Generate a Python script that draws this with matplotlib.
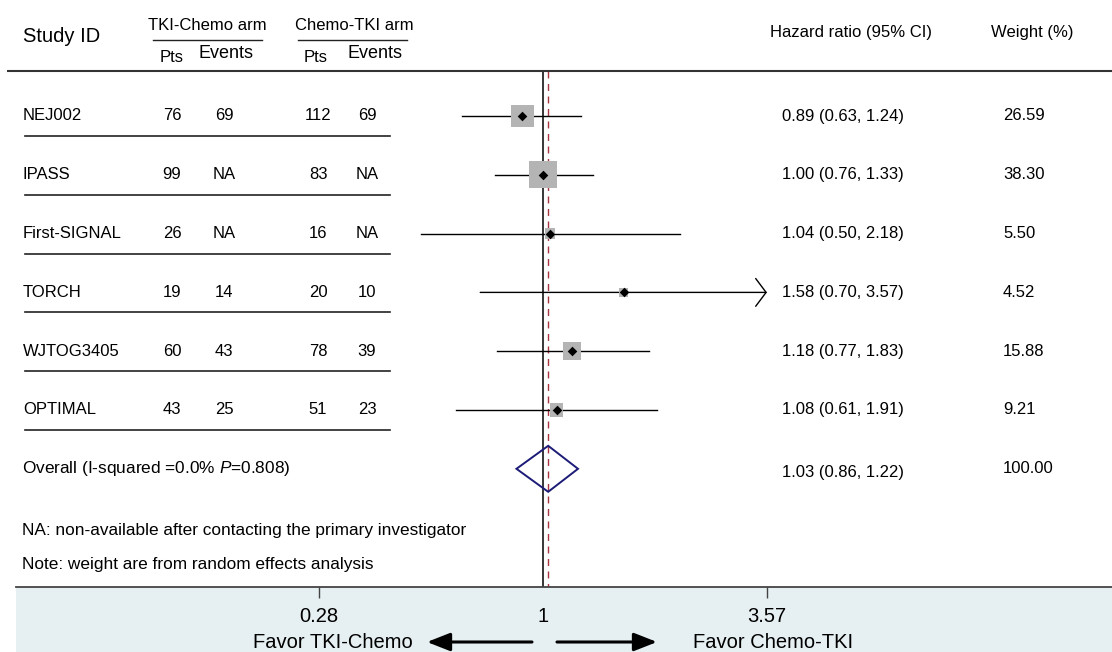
import numpy as np
import matplotlib
matplotlib.use("Agg")
import matplotlib.pyplot as plt
from matplotlib.transforms import blended_transform_factory
from matplotlib.patches import Polygon
from matplotlib.ticker import NullLocator

plt.rcParams['font.family'] = ['Liberation Sans', 'DejaVu Sans']
plt.rcParams['mathtext.fontset'] = 'custom'
plt.rcParams['mathtext.rm'] = 'Liberation Sans'
plt.rcParams['mathtext.it'] = 'Liberation Sans:italic'

# ---------------- data ----------------
studies = ["NEJ002", "IPASS", "First-SIGNAL", "TORCH", "WJTOG3405", "OPTIMAL"]
tki_pts = ["76", "99", "26", "19", "60", "43"]
tki_events = ["69", "NA", "NA", "14", "43", "25"]
chemo_pts = ["112", "83", "16", "20", "78", "51"]
chemo_events = ["69", "NA", "NA", "10", "39", "23"]
hr = [0.89, 1.00, 1.04, 1.58, 1.18, 1.08]
ci_low = [0.63, 0.76, 0.50, 0.70, 0.77, 0.61]
ci_high = [1.24, 1.33, 2.18, 3.57, 1.83, 1.91]
weights = [26.59, 38.30, 5.50, 4.52, 15.88, 9.21]
overall_hr, overall_low, overall_high = 1.03, 0.86, 1.22
overall_weight = 100.00
overall_label = "Overall (I-squared =0.0% $P$=0.808)"
axis_ticks = [0.28, 1, 3.57]
tick_labels = ["0.28", "1", "3.57"]
tick_marks = [0.28, 3.57]
notes = ["NA: non-available after contacting the primary investigator",
         "Note: weight are from random effects analysis"]

# ---------------- layout helpers ----------------
W, H = 1112, 652
X1, PXLN = 543, 176.0       # pixel of HR=1, pixels per ln unit
ROW0, ROWH = 116, 58.8      # first row centre, row spacing (pixels)
BAND = 587                  # top of the bottom band (pixels)


def hr_at(p):
    return np.exp((p - X1) / PXLN)


def r_at(p):
    return (p - ROW0) / ROWH


def fx(p):
    return p / W


fig = plt.figure(figsize=(W / 100, H / 100), dpi=100)
ax = fig.add_axes([0, (H - BAND) / H, 1, BAND / H])
ax.set_xscale('log')
ax.set_xlim(hr_at(0), hr_at(W))
ax.set_ylim(r_at(BAND), r_at(0))
ax.axis('off')
tx = blended_transform_factory(fig.transFigure, ax.transData)

FS = 12
# headers
ax.text(fx(23), r_at(36), "Study ID", fontsize=14.5, ha='left', va='center', transform=tx)
for title, cx, x0, x1, cp, ce in [("TKI-Chemo arm", 207, 153, 262, 172, 226),
                                   ("Chemo-TKI arm", 354, 298, 407, 316, 375)]:
    ax.text(fx(cx), r_at(25), title, fontsize=FS, ha='center', va='center', transform=tx)
    ax.plot([fx(x0), fx(x1)], [r_at(40)] * 2, color='#222222', lw=1.0, transform=tx)
    ax.text(fx(cp), r_at(57.5), "Pts", fontsize=FS, ha='center', va='center', transform=tx)
    ax.text(fx(ce), r_at(54), "Events", fontsize=13, ha='center', va='center', transform=tx)
ax.text(fx(770), r_at(33), "Hazard ratio (95% CI)", fontsize=FS, ha='left', va='center', transform=tx)
ax.text(fx(991), r_at(33), "Weight (%)", fontsize=FS, ha='left', va='center', transform=tx)
ax.plot([fx(7), fx(W)], [r_at(71)] * 2, color='#333333', lw=1.5, transform=tx, solid_capstyle='butt')

# reference lines
ax.plot([1, 1], [r_at(71), r_at(BAND)], color='black', lw=1.1, zorder=1)
ax.plot([overall_hr, overall_hr], [r_at(71), r_at(BAND)], color='#a8343f', lw=1.0,
        dashes=(5, 4), zorder=1)

xmax_ci = axis_ticks[-1]
ys = np.arange(len(studies))
for i in ys:
    ax.text(fx(23), i, studies[i], fontsize=FS, ha='left', va='center', transform=tx)
    for col, cx in zip([tki_pts, tki_events, chemo_pts, chemo_events], [172, 224, 318, 367]):
        ax.text(fx(cx), i, col[i], fontsize=FS, ha='center', va='center', transform=tx)
    ax.plot([fx(25), fx(390)], [i + 20 / ROWH] * 2, color='#222222', lw=1.2, transform=tx)
    ax.text(fx(782), i, f"{hr[i]:.2f} ({ci_low[i]:.2f}, {ci_high[i]:.2f})", fontsize=FS,
            ha='left', va='center', transform=tx)
    ax.text(fx(1003), i, f"{weights[i]:.2f}", fontsize=FS, ha='left', va='center', transform=tx)
    if ci_high[i] >= xmax_ci:
        ax.annotate("", xy=(xmax_ci, i), xytext=(ci_low[i], i),
                    arrowprops=dict(arrowstyle='->,head_length=0.75,head_width=1.0',
                                    color='black', lw=1.0, shrinkA=0, shrinkB=0,
                                    mutation_scale=10), zorder=2)
    else:
        ax.plot([ci_low[i], ci_high[i]], [i, i], color='black', lw=1.0, zorder=2)

ax.scatter(hr, ys, s=np.array(weights) * 9.9, marker='s', color='#b4b4b4', lw=0, zorder=3)
ax.scatter(hr, ys, s=24, marker='D', color='black', lw=0, zorder=4)

# overall
yo = len(studies)
hd = 23 / ROWH
ax.add_patch(Polygon([(overall_low, yo), (overall_hr, yo - hd), (overall_high, yo),
                      (overall_hr, yo + hd)], closed=True, fill=False,
                     edgecolor='#1c1c78', lw=1.4, zorder=5))
ax.text(fx(22), yo, overall_label, fontsize=12.4, ha='left', va='center', transform=tx)
ax.text(fx(782), yo + 0.06, f"{overall_hr:.2f} ({overall_low:.2f}, {overall_high:.2f})",
        fontsize=FS, ha='left', va='center', transform=tx)
ax.text(fx(1003), yo, f"{overall_weight:.2f}", fontsize=FS, ha='left', va='center', transform=tx)

for k, note in enumerate(notes):
    ax.text(fx(22), r_at(530 + 35 * k), note, fontsize=12.4, ha='left', va='center', transform=tx)

# bottom band axis
BL = 16
bax = fig.add_axes([BL / W, 0, 1 - BL / W, (H - BAND) / H])
bax.set_xscale('log')
bax.set_xlim(hr_at(BL), hr_at(W))
bax.set_ylim(0, 1)
bax.set_facecolor('#e6eff1')
for s in ['left', 'right', 'bottom']:
    bax.spines[s].set_visible(False)
bax.spines['top'].set_color('#444444')
bax.spines['top'].set_linewidth(1.3)
bax.set_xticks(tick_marks)
bax.xaxis.set_minor_locator(NullLocator())
bax.set_yticks([])
bax.tick_params(axis='x', which='both', top=True, bottom=False, direction='in', length=8,
                width=1, color='#444444', labeltop=False, labelbottom=False)
btx = blended_transform_factory(bax.transData, bax.transAxes)
for t, lab in zip(axis_ticks, tick_labels):
    bax.text(t, (H - 617) / (H - BAND), lab, fontsize=14.5, ha='center', va='center', transform=btx)

yf = (H - 642) / H
fig.text(fx(413), yf, "Favor TKI-Chemo", fontsize=14.5, ha='right', va='center')
fig.text(fx(693), yf, "Favor Chemo-TKI", fontsize=14.5, ha='left', va='center')
for a, b in [(532, 427), (557, 657)]:
    bax.annotate("", xy=(fx(b), yf), xytext=(fx(a), yf), xycoords='figure fraction',
                 textcoords='figure fraction',
                 arrowprops=dict(arrowstyle='-|>,head_length=1.4,head_width=0.55', color='black',
                                 lw=2.2, shrinkA=0, shrinkB=0, mutation_scale=10))

fig.savefig("out.png", dpi=100)
